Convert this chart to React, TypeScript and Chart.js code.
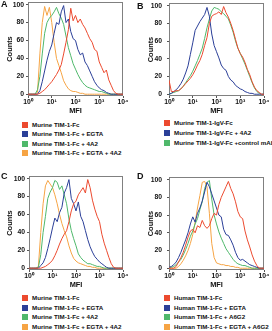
import React, { useEffect, useRef } from 'react';
import { Chart, registerables } from 'chart.js';

Chart.register(...registerables);

// log10(MFI) bin centres shared by all histograms
const BINS = [
  0.0, 0.1, 0.2, 0.3, 0.4, 0.5, 0.6, 0.7, 0.8, 0.9,
  1.0, 1.1, 1.2, 1.3, 1.4, 1.5, 1.6, 1.7, 1.8, 1.9,
  2.0, 2.1, 2.2, 2.3, 2.4, 2.5, 2.6, 2.7, 2.8, 2.9,
  3.0, 3.1, 3.2, 3.3, 3.4, 3.5, 3.6, 3.7, 3.8, 3.9, 4.0,
];
const X_TICKS = [0, 1, 2, 3, 4];
const X_TICK_LABELS = ['10⁰', '10¹', '10²', '10³', '10⁴'];
const Y_TICKS = [0, 20, 40, 60, 80, 100];
const X_TITLE = 'MFI';
const Y_TITLE = 'Counts';

// Panel A
const A_TIM1 = [0, 0, 0, 0, 0, 1, 3, 5, 8, 11, 14, 18, 22, 27, 33, 45, 58, 72, 96, 82, 88, 80, 84, 78, 74, 68, 62, 58, 50, 48, 36, 30, 24, 27, 16, 10, 4, 1, 0, 0, 0];
const A_EGTA = [0, 0, 0, 0, 0, 4, 14, 26, 38, 48, 55, 68, 80, 78, 92, 99, 80, 84, 70, 62, 60, 50, 44, 46, 36, 32, 26, 20, 14, 10, 7, 5, 4, 2, 1, 0, 0, 0, 0, 0, 0];
const A_4A2 = [0, 0, 0, 0, 5, 20, 45, 68, 80, 85, 88, 92, 97, 90, 85, 78, 65, 52, 43, 34, 28, 22, 17, 13, 10, 8, 7, 6, 5, 4, 3, 3, 2, 1, 0, 0, 0, 0, 0, 0, 0];
const A_EGTA_4A2 = [0, 0, 0, 0, 2, 45, 80, 98, 88, 97, 80, 58, 40, 32, 24, 15, 10, 6, 4, 3, 3, 2, 1, 1, 0, 0, 0, 0, 0, 0, 0, 0, 0, 0, 0, 0, 0, 0, 0, 0, 0];

// Panel B
const B_IGV = [16, 3, 3, 4, 4, 6, 9, 12, 15, 18, 22, 27, 33, 38, 45, 55, 64, 80, 88, 90, 91, 93, 90, 99, 92, 87, 80, 72, 62, 52, 46, 42, 36, 28, 22, 14, 8, 4, 2, 0, 0];
const B_IGV_4A2 = [0, 1, 3, 5, 8, 12, 17, 24, 32, 45, 58, 72, 77, 82, 86, 90, 98, 88, 68, 55, 48, 41, 33, 29, 27, 20, 16, 14, 10, 8, 6, 5, 3, 2, 1, 1, 0, 0, 0, 0, 0];
const B_IGV_CTRL = [0, 1, 2, 3, 4, 6, 9, 13, 17, 21, 26, 32, 38, 45, 52, 63, 75, 85, 94, 98, 97, 96, 93, 91, 88, 85, 78, 70, 60, 52, 46, 40, 34, 27, 20, 13, 7, 3, 1, 0, 0];

// Panel C
const C_TIM1 = [0, 0, 0, 0, 0, 0, 1, 2, 4, 6, 9, 14, 20, 27, 33, 38, 42, 52, 64, 72, 75, 82, 86, 90, 84, 99, 90, 76, 66, 58, 52, 38, 28, 20, 12, 5, 1, 0, 0, 0, 0];
const C_EGTA = [0, 0, 0, 0, 0, 3, 6, 12, 22, 33, 45, 56, 52, 62, 68, 84, 90, 99, 78, 72, 64, 74, 58, 52, 42, 32, 24, 18, 13, 10, 7, 5, 3, 1, 0, 0, 0, 0, 0, 0, 0];
const C_4A2 = [0, 0, 0, 0, 1, 15, 40, 58, 78, 85, 90, 98, 96, 88, 92, 82, 72, 55, 42, 33, 25, 16, 12, 9, 7, 5, 5, 4, 3, 2, 2, 1, 0, 0, 0, 0, 0, 0, 0, 0, 0];
const C_EGTA_4A2 = [0, 0, 0, 0, 2, 40, 72, 92, 98, 94, 90, 82, 72, 60, 50, 42, 35, 25, 17, 11, 8, 6, 5, 4, 3, 2, 2, 1, 1, 0, 0, 0, 0, 0, 0, 0, 0, 0, 0, 0, 0];

// Panel D
const D_TIM1 = [0, 0, 0, 2, 7, 12, 18, 26, 35, 42, 44, 40, 48, 46, 54, 48, 45, 48, 56, 62, 60, 72, 80, 86, 92, 98, 90, 84, 75, 64, 58, 56, 42, 32, 24, 15, 8, 3, 0, 0, 0];
const D_EGTA = [1, 2, 4, 7, 12, 18, 25, 32, 40, 50, 58, 52, 62, 68, 76, 86, 97, 92, 84, 76, 68, 60, 58, 44, 38, 37, 32, 26, 18, 12, 9, 10, 8, 6, 4, 3, 2, 1, 0, 0, 0];
const D_A6G2 = [0, 1, 2, 4, 7, 10, 15, 21, 28, 36, 42, 50, 56, 66, 75, 90, 97, 99, 78, 60, 50, 41, 34, 28, 22, 18, 14, 10, 7, 5, 4, 3, 3, 2, 1, 0, 0, 0, 0, 0, 0];
const D_EGTA_A6G2 = [0, 0, 0, 0, 2, 5, 9, 14, 20, 28, 38, 52, 68, 82, 97, 98, 92, 62, 28, 12, 6, 5, 4, 4, 3, 3, 2, 2, 1, 1, 0, 0, 0, 0, 0, 0, 0, 0, 0, 0, 0];

const LEGEND_A = ['Murine TIM-1-Fc', 'Murine TIM-1-Fc + EGTA', 'Murine TIM-1-Fc + 4A2', 'Murine TIM-1-Fc + EGTA + 4A2'];
const LEGEND_B = ['Murine TIM-1-IgV-Fc', 'Murine TIM-1-IgV-Fc + 4A2', 'Murine TIM-1-IgV-Fc +control mAb'];
const LEGEND_C = ['Murine TIM-1-Fc', 'Murine TIM-1-Fc + EGTA', 'Murine TIM-1-Fc + 4A2', 'Murine TIM-1-Fc + EGTA + 4A2'];
const LEGEND_D = ['Human TIM-1-Fc', 'Human TIM-1-Fc + EGTA', 'Human TIM-1-Fc + A6G2', 'Human TIM-1-Fc + EGTA + A6G2'];

const RED = '#ec4a2f';
const BLUE = '#2b3f98';
const GREEN = '#4fb86b';
const ORANGE = '#f6a444';

const FONT = "'Liberation Sans', Arial, Helvetica, sans-serif";

const PANELS = [
  { letter: 'A', x: 0, y: 0, letterTop: 0, l: 28, r: 123, t: 2, b: 96, yPad: 2, countsPad: 6,
    series: [A_TIM1, A_EGTA, A_4A2, A_EGTA_4A2], colors: [RED, BLUE, GREEN, ORANGE], labels: LEGEND_A,
    legendTop: 125, legendStep: 9.4, sqX: 22, txtX: 32 },
  { letter: 'B', x: 136, y: 0, letterTop: 2, l: 169, r: 264, t: 3, b: 96, yPad: 5, countsPad: 11,
    series: [B_IGV, B_IGV_4A2, B_IGV_CTRL], colors: [RED, BLUE, GREEN], labels: LEGEND_B,
    legendTop: 123, legendStep: 10, sqX: 164, txtX: 174 },
  { letter: 'C', x: 0, y: 165, letterTop: 172, l: 29, r: 123, t: 176, b: 270, yPad: 2, countsPad: 6.5,
    series: [C_TIM1, C_EGTA, C_4A2, C_EGTA_4A2], colors: [RED, BLUE, GREEN, ORANGE], labels: LEGEND_C,
    legendTop: 298, legendStep: 9.7, sqX: 22, txtX: 32 },
  { letter: 'D', x: 136, y: 165, letterTop: 172, l: 169, r: 264, t: 177, b: 270, yPad: 5, countsPad: 11,
    series: [D_TIM1, D_EGTA, D_A6G2, D_EGTA_A6G2], colors: [RED, BLUE, GREEN, ORANGE], labels: LEGEND_D,
    legendTop: 298, legendStep: 9.7, sqX: 164, txtX: 174 },
];

const TOP_PAD = 12;
const X_AXIS_H = 19;
const PANEL_W = 136;

const boxPlugin = {
  id: 'plotBox',
  beforeDatasetsDraw(chart: any) {
    const { ctx, chartArea } = chart;
    const { left, top, right, bottom } = chartArea;
    ctx.save();
    ctx.strokeStyle = '#808080';
    ctx.lineWidth = 1;
    ctx.strokeRect(Math.round(left) + 0.5, Math.round(top) + 0.5, Math.round(right - left) - 1, Math.round(bottom - top) - 1);
    ctx.restore();
  },
};

export default function App() {
  const refs = useRef<(HTMLCanvasElement | null)[]>([]);

  useEffect(() => {
    const tickFont = { family: FONT, size: 6.8, weight: 'bold' as const };
    const titleFont = { family: FONT, size: 7.4, weight: 'bold' as const, lineHeight: 1 };
    const charts = PANELS.map((p, i) => {
      const canvas = refs.current[i] as HTMLCanvasElement;
      const yWidth = p.l - p.x;
      const rightPad = p.x + PANEL_W - p.r;
      return new Chart(canvas, {
        type: 'line',
        data: {
          datasets: p.series.map((s, k) => ({
            label: p.labels[k],
            data: BINS.map((b, j) => ({ x: b, y: s[j] })),
            borderColor: p.colors[k],
            backgroundColor: p.colors[k],
            borderWidth: 1,
            pointRadius: 0,
            tension: 0,
            fill: false,
          })),
        },
        options: {
          animation: false,
          responsive: false,
          maintainAspectRatio: false,
          events: [],
          layout: { padding: { top: TOP_PAD, right: rightPad, left: 0, bottom: 0 } },
          plugins: { legend: { display: false }, tooltip: { enabled: false } },
          scales: {
            x: {
              type: 'linear',
              min: 0,
              max: 4,
              afterBuildTicks: (s: any) => { s.ticks = X_TICKS.map((v) => ({ value: v })); },
              afterFit: (s: any) => { s.height = X_AXIS_H; },
              ticks: {
                callback: (v: any) => X_TICK_LABELS[X_TICKS.indexOf(Number(v))],
                font: tickFont,
                color: '#111',
                padding: 0,
                maxRotation: 0,
                autoSkip: false,
              },
              grid: { display: true, drawOnChartArea: false, drawTicks: true, tickLength: 2, color: '#555' },
              border: { display: false },
              title: { display: true, text: X_TITLE, font: titleFont, color: '#111', padding: 0 },
            },
            y: {
              type: 'linear',
              min: -2,
              max: 103,
              afterBuildTicks: (s: any) => { s.ticks = Y_TICKS.map((v) => ({ value: v })); },
              afterFit: (s: any) => { s.width = yWidth; },
              ticks: { font: tickFont, color: '#111', padding: p.yPad, autoSkip: false },
              grid: { display: true, drawOnChartArea: false, drawTicks: true, tickLength: 2, color: '#555' },
              border: { display: false },
              title: { display: true, text: Y_TITLE, font: titleFont, color: '#111', padding: { top: p.countsPad, bottom: 0 } },
            },
          },
        },
        plugins: [boxPlugin],
      } as any);
    });
    return () => charts.forEach((c) => c.destroy());
  }, []);

  return (
    <div style={{ position: 'absolute', left: 0, top: 0, width: 272, height: 331, overflow: 'hidden', background: '#fff', fontFamily: FONT, color: '#111' }}>
      {PANELS.map((p, i) => {
        const canvasTop = p.t - TOP_PAD;
        const canvasH = TOP_PAD + (p.b - p.t) + X_AXIS_H;
        return (
          <React.Fragment key={p.letter}>
            <canvas
              ref={(el) => { refs.current[i] = el; }}
              width={PANEL_W}
              height={canvasH}
              style={{ position: 'absolute', left: p.x, top: canvasTop, width: PANEL_W, height: canvasH, display: 'block' }}
            />
            <div style={{ position: 'absolute', left: p.x + 1, top: p.letterTop, fontSize: 9, lineHeight: '9px', fontWeight: 'bold' }}>{p.letter}</div>
            {p.labels.map((lab, k) => {
              const cy = p.legendTop + k * p.legendStep;
              return (
                <React.Fragment key={lab}>
                  <div style={{ position: 'absolute', left: p.sqX, top: cy - 3, width: 6, height: 6, background: p.colors[k] }} />
                  <div style={{ position: 'absolute', left: p.txtX, top: cy - 4, fontSize: 6.2, lineHeight: '8px', fontWeight: 'bold', whiteSpace: 'nowrap' }}>{lab}</div>
                </React.Fragment>
              );
            })}
          </React.Fragment>
        );
      })}
    </div>
  );
}
